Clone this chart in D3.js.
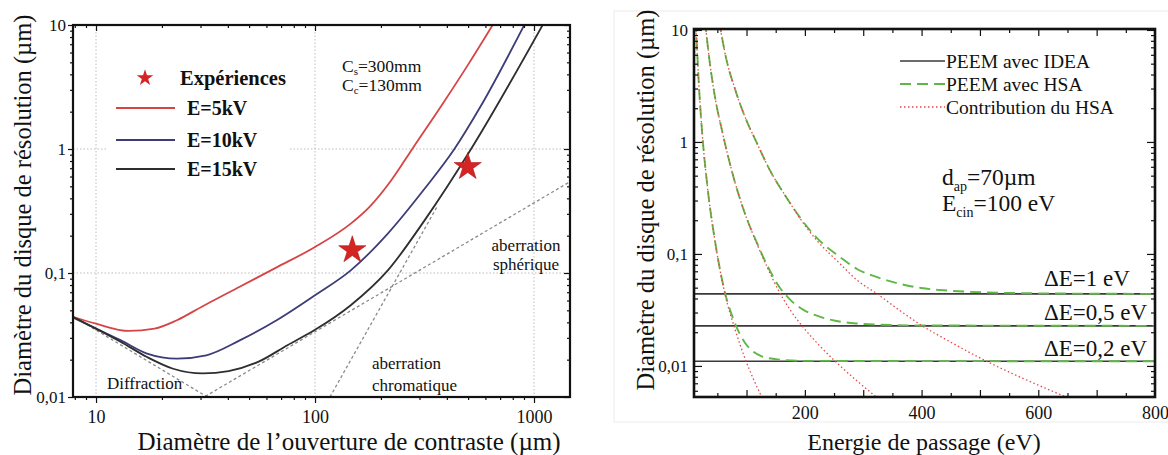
<!DOCTYPE html>
<html><head><meta charset="utf-8">
<script src="https://cdn.jsdelivr.net/npm/d3@7"></script>
<style>
body{margin:0;background:#fff}
text{font-family:"Liberation Serif","Times New Roman",serif;fill:#111}
</style>
</head><body><svg id="c" width="1168" height="455"></svg>
<script>
// ---------- LEFT PANEL DATA (aperture diameter µm, resolution µm) ----------
const leftXTicks = [10, 100, 1000];
const leftXTickLabels = ["10", "100", "1000"];
const leftYTicks = [0.01, 0.1, 1, 10];
const leftYTickLabels = ["0,01", "0,1", "1", "10"];
const leftSeriesNames = ["E=5kV", "E=10kV", "E=15kV"];
const curve5kV = [[7.7,0.0448],[10,0.039],[14.1,0.0341],[18.5,0.0356],[23.4,0.0416],[30.7,0.054],[45.3,0.0775],[66.8,0.111],[100,0.162],[145.6,0.25],[177,0.34],[223,0.56],[282,1.04],[385,2.35],[506,4.95],[652,10.2]];
const curve10kV = [[7.7,0.0445],[10,0.0356],[13,0.0286],[17.1,0.0224],[23.4,0.0204],[31.9,0.0217],[45.3,0.0286],[66.8,0.0416],[100,0.0662],[145.6,0.105],[215,0.208],[317,0.48],[433,1.0],[569,2.19],[908,10.2]];
const curve15kV = [[7.7,0.045],[10,0.0356],[13,0.0278],[17.1,0.021],[22.5,0.0169],[30.7,0.0155],[40.3,0.0162],[55,0.0192],[75.2,0.0263],[100,0.0348],[145.6,0.055],[215,0.105],[317,0.267],[516,1.0],[1102,10.2]];
const diffractionLine = [[7.85,0.0448],[33.5,0.0096]];
const sphericalLine = [[30,0.0096],[1460,0.545]];
const chromaticLine = [[117,0.01],[360,0.34]];
const experiments = [[148,0.153],[498,0.717]];

// ---------- RIGHT PANEL DATA (pass energy eV, resolution µm) ----------
const rightXTicks = [200, 400, 600, 800];
const rightYTicks = [0.01, 0.1, 1, 10];
const rightYTickLabels = ["0,01", "0,1", "1", "10"];
const deltaELabels = ["ΔE=1 eV", "ΔE=0,5 eV", "ΔE=0,2 eV"];
const ideaLevels = [0.044, 0.0228, 0.011];
const hsaContrib1 = [[53,12],[65,5.6],[80,3.0],[100,1.55],[115,1.05],[140,0.56],[170,0.31],[200,0.18],[220,0.133],[260,0.082],[290,0.058],[324,0.044],[360,0.032],[399,0.0232],[450,0.0163],[507,0.0113],[570,0.0079],[647,0.0053]];
const hsaContrib05 = [[29,12],[35,6.2],[45,2.7],[59,1.2],[80,0.44],[100,0.21],[116,0.13],[136,0.075],[156,0.046],[176,0.031],[197,0.0222],[225,0.0152],[252,0.011],[290,0.0073],[324,0.0052]];
const hsaContrib02 = [[13,12],[18,3.5],[24,1.2],[33,0.4],[46,0.13],[63,0.044],[80,0.0215],[97,0.0118],[126,0.0053]];
const peemHSA1 = [[53,12],[65,5.6],[80,3.0],[100,1.55],[115,1.05],[140,0.56],[170,0.31],[200,0.185],[220,0.14],[260,0.094],[290,0.073],[324,0.062],[360,0.0545],[399,0.0497],[450,0.0469],[507,0.0454],[570,0.0447],[647,0.0443],[800,0.044]];
const peemHSA05 = [[29,12],[35,6.2],[45,2.7],[59,1.2],[80,0.44],[100,0.21],[116,0.132],[136,0.078],[156,0.051],[176,0.0385],[197,0.0318],[225,0.0276],[252,0.0253],[290,0.0239],[324,0.0234],[400,0.023],[800,0.0228]];
const peemHSA02 = [[13,12],[18,3.5],[24,1.2],[33,0.4],[46,0.13],[63,0.0454],[80,0.0242],[97,0.0162],[110,0.0136],[126,0.0122],[150,0.0115],[200,0.0111],[800,0.011]];
const rightLegend = ["PEEM avec IDEA", "PEEM avec HSA", "Contribution du HSA"];

const svg = d3.select("#c");
svg.append("rect").attr("width",1168).attr("height",455).attr("fill","#fff");

function styleAxis(g){
  g.select(".domain").remove();
  g.attr("font-family",null).attr("font-size",null);
  g.selectAll(".tick line").attr("stroke","#111").attr("stroke-width",1.2);
  return g;
}

// ================= LEFT PANEL =================
const L = {x0:73, x1:570, y0:25, y1:397};
const xL = d3.scaleLog().domain([7.85,1460]).range([L.x0,L.x1]);
const yL = d3.scaleLog().domain([0.01,10]).range([L.y1,L.y0]);
svg.append("clipPath").attr("id","clipL").append("rect")
  .attr("x",L.x0).attr("y",L.y0).attr("width",L.x1-L.x0).attr("height",L.y1-L.y0);

const gridL = svg.append("g").attr("stroke","#bdbdbd").attr("stroke-dasharray","1.5,2").attr("stroke-width",1);
leftXTicks.forEach(v=>gridL.append("line").attr("x1",xL(v)).attr("x2",xL(v)).attr("y1",L.y0).attr("y2",L.y1));
[0.1,1].forEach(v=>gridL.append("line").attr("x1",L.x0).attr("x2",L.x1).attr("y1",yL(v)).attr("y2",yL(v)));

const lineL = d3.line().x(d=>xL(d[0])).y(d=>yL(d[1])).curve(d3.curveMonotoneX);
const lineStraightL = d3.line().x(d=>xL(d[0])).y(d=>yL(d[1]));
const plotL = svg.append("g").attr("clip-path","url(#clipL)");
[diffractionLine, sphericalLine, chromaticLine].forEach(d=>{
  plotL.append("path").attr("d",lineStraightL(d)).attr("fill","none")
    .attr("stroke","#8a8a8a").attr("stroke-width",1.3).attr("stroke-dasharray","3,2.5");
});
const leftColors = ["#d64545","#3c3c78","#2e2e2e"];
[curve5kV, curve10kV, curve15kV].forEach((d,i)=>{
  plotL.append("path").attr("d",lineL(d)).attr("fill","none")
    .attr("stroke",leftColors[i]).attr("stroke-width",1.8);
});

svg.append("rect").attr("x",107).attr("y",58).attr("width",182).attr("height",126).attr("fill","#fff");
const starBig = d3.symbol().type(d3.symbolStar).size(230);
const starSmall = d3.symbol().type(d3.symbolStar).size(85);
svg.append("g").selectAll("path").data(experiments).join("path")
  .attr("transform",d=>`translate(${xL(d[0])},${yL(d[1])})`)
  .attr("d",starBig).attr("fill","#d42424").attr("stroke","#b01818").attr("stroke-width",0.6);

svg.append("path").attr("transform","translate(145,78)").attr("d",starSmall).attr("fill","#d42424");
svg.append("text").attr("x",180).attr("y",85).attr("font-size",20.5).attr("font-weight","bold").text("Expériences");
const legY = [108,140,169];
leftSeriesNames.forEach((n,i)=>{
  svg.append("line").attr("x1",116).attr("x2",175).attr("y1",legY[i]).attr("y2",legY[i])
    .attr("stroke",leftColors[i]).attr("stroke-width",1.8);
  svg.append("text").attr("x",187).attr("y",legY[i]+7).attr("font-size",20).attr("font-weight","bold").text(n);
});

const cs = svg.append("text").attr("x",342).attr("y",72).attr("font-size",17.5);
cs.append("tspan").text("C"); cs.append("tspan").attr("font-size",11).attr("dy",3).text("s"); cs.append("tspan").attr("dy",-3).text("=300mm");
const cc = svg.append("text").attr("x",342).attr("y",91).attr("font-size",17.5);
cc.append("tspan").text("C"); cc.append("tspan").attr("font-size",11).attr("dy",3).text("c"); cc.append("tspan").attr("dy",-3).text("=130mm");

svg.append("text").attr("x",107).attr("y",389).attr("font-size",17).text("Diffraction");
svg.append("text").attr("x",372).attr("y",369).attr("font-size",17).text("aberration");
svg.append("text").attr("x",372).attr("y",391).attr("font-size",17).text("chromatique");
svg.append("text").attr("x",526).attr("y",251).attr("font-size",17).attr("text-anchor","middle").text("aberration");
svg.append("text").attr("x",526).attr("y",270).attr("font-size",17).attr("text-anchor","middle").text("sphérique");

const xLminor = xL.ticks().filter(v=>!leftXTicks.includes(v));
const yLminor = yL.ticks().filter(v=>!leftYTicks.some(t=>Math.abs(t-v)/t<1e-6));
styleAxis(svg.append("g").attr("transform",`translate(0,${L.y1})`).call(d3.axisBottom(xL).tickValues(xLminor).tickSize(3).tickFormat("")));
const bL = styleAxis(svg.append("g").attr("transform",`translate(0,${L.y1})`).call(d3.axisBottom(xL).tickValues(leftXTicks).tickSize(6).tickPadding(7).tickFormat((d,i)=>leftXTickLabels[i])));
bL.selectAll("text").attr("font-size",18).attr("fill","#111");
styleAxis(svg.append("g").attr("transform",`translate(0,${L.y0})`).call(d3.axisBottom(xL).tickValues(xLminor).tickSize(3).tickFormat("")));
styleAxis(svg.append("g").attr("transform",`translate(0,${L.y0})`).call(d3.axisBottom(xL).tickValues(leftXTicks).tickSize(6).tickFormat("")));
styleAxis(svg.append("g").attr("transform",`translate(${L.x0},0)`).call(d3.axisLeft(yL).tickValues(yLminor).tickSize(3).tickFormat("")));
const lL = styleAxis(svg.append("g").attr("transform",`translate(${L.x0},0)`).call(d3.axisLeft(yL).tickValues(leftYTicks).tickSize(5).tickPadding(2).tickFormat((d,i)=>leftYTickLabels[i])));
lL.selectAll("text").attr("font-size",17).attr("fill","#111");
styleAxis(svg.append("g").attr("transform",`translate(${L.x1},0)`).call(d3.axisRight(yL).tickValues(yLminor).tickSize(-3).tickFormat("")));
styleAxis(svg.append("g").attr("transform",`translate(${L.x1},0)`).call(d3.axisRight(yL).tickValues(leftYTicks).tickSize(-6).tickFormat("")));
svg.append("rect").attr("x",L.x0).attr("y",L.y0).attr("width",L.x1-L.x0).attr("height",L.y1-L.y0)
  .attr("fill","none").attr("stroke","#111").attr("stroke-width",2.2);

svg.append("text").attr("transform","translate(22,205) rotate(-90)").attr("text-anchor","middle").attr("dy","0.35em")
  .attr("font-size",24.5).text("Diamètre du disque de résolution (µm)");
svg.append("text").attr("x",349).attr("y",450).attr("text-anchor","middle").attr("font-size",25)
  .text("Diamètre de l’ouverture de contraste (µm)");

// ================= RIGHT PANEL =================
svg.append("rect").attr("x",614).attr("y",11).attr("width",560).attr("height",411).attr("fill","none").attr("stroke","#ececec");
const R = {x0:694, x1:1155, y0:29, y1:397};
const xR = d3.scaleLinear().domain([10,800]).range([R.x0,R.x1]);
const yR = d3.scaleLog().domain([0.00528,10.2]).range([R.y1,R.y0]);
svg.append("clipPath").attr("id","clipR").append("rect")
  .attr("x",R.x0).attr("y",R.y0).attr("width",R.x1-R.x0).attr("height",R.y1-R.y0);
const plotR = svg.append("g").attr("clip-path","url(#clipR)");
const lineR = d3.line().x(d=>xR(d[0])).y(d=>yR(d[1])).curve(d3.curveMonotoneX);
ideaLevels.forEach(v=>{
  plotR.append("line").attr("x1",xR(10)).attr("x2",xR(800)).attr("y1",yR(v)).attr("y2",yR(v))
    .attr("stroke","#3a3a3a").attr("stroke-width",1.6);
});
[peemHSA1, peemHSA05, peemHSA02].forEach(d=>{
  plotR.append("path").attr("d",lineR(d)).attr("fill","none").attr("stroke","#5fb846")
    .attr("stroke-width",1.9).attr("stroke-dasharray","11,6");
});
[hsaContrib1, hsaContrib05, hsaContrib02].forEach(d=>{
  plotR.append("path").attr("d",lineR(d)).attr("fill","none").attr("stroke","#e8474a")
    .attr("stroke-width",1.3).attr("stroke-dasharray","1.5,2.5");
});

const xRall = d3.range(50,800,50);
const xRmajor = xRall.filter(v=>v%100===0);
const xRminor = xRall.filter(v=>v%100!==0);
const yRminor = yR.ticks().filter(v=>!rightYTicks.some(t=>Math.abs(t-v)/t<1e-6));
styleAxis(svg.append("g").attr("transform",`translate(0,${R.y1})`).call(d3.axisBottom(xR).tickValues(xRminor).tickSize(-4).tickFormat("")));
styleAxis(svg.append("g").attr("transform",`translate(0,${R.y1})`).call(d3.axisBottom(xR).tickValues(xRmajor).tickSize(-7).tickFormat("")));
styleAxis(svg.append("g").attr("transform",`translate(0,${R.y0})`).call(d3.axisTop(xR).tickValues(xRminor).tickSize(-4).tickFormat("")));
styleAxis(svg.append("g").attr("transform",`translate(0,${R.y0})`).call(d3.axisTop(xR).tickValues(xRmajor).tickSize(-7).tickFormat("")));
const bR = styleAxis(svg.append("g").attr("transform",`translate(0,${R.y1})`).call(d3.axisBottom(xR).tickValues(rightXTicks).tickSize(0).tickPadding(9).tickFormat(d3.format("d"))));
bR.selectAll("text").attr("font-size",18).attr("fill","#111");
styleAxis(svg.append("g").attr("transform",`translate(${R.x0},0)`).call(d3.axisLeft(yR).tickValues(yRminor).tickSize(-4).tickFormat("")));
const lR = styleAxis(svg.append("g").attr("transform",`translate(${R.x0},0)`).call(d3.axisLeft(yR).tickValues(rightYTicks).tickSize(-8).tickPadding(6).tickFormat((d,i)=>rightYTickLabels[i])));
lR.selectAll("text").attr("font-size",17).attr("fill","#111");
styleAxis(svg.append("g").attr("transform",`translate(${R.x1},0)`).call(d3.axisRight(yR).tickValues(yRminor).tickSize(-4).tickFormat("")));
styleAxis(svg.append("g").attr("transform",`translate(${R.x1},0)`).call(d3.axisRight(yR).tickValues(rightYTicks).tickSize(-8).tickFormat("")));
svg.append("rect").attr("x",R.x0).attr("y",R.y0).attr("width",R.x1-R.x0).attr("height",R.y1-R.y0)
  .attr("fill","none").attr("stroke","#111").attr("stroke-width",2.6);

const lgY = [61,84,107];
const lgStyles = [
  {stroke:"#3a3a3a", dash:null, w:1.6},
  {stroke:"#5fb846", dash:"11,6", w:1.9},
  {stroke:"#e8474a", dash:"1.5,2.5", w:1.3}];
rightLegend.forEach((n,i)=>{
  svg.append("line").attr("x1",900).attr("x2",945).attr("y1",lgY[i]).attr("y2",lgY[i])
    .attr("stroke",lgStyles[i].stroke).attr("stroke-width",lgStyles[i].w).attr("stroke-dasharray",lgStyles[i].dash);
  svg.append("text").attr("x",946).attr("y",lgY[i]+7).attr("font-size",19.5).text(n);
});

const dap = svg.append("text").attr("x",942).attr("y",185).attr("font-size",23.5);
dap.append("tspan").text("d"); dap.append("tspan").attr("font-size",14).attr("dy",6).text("ap"); dap.append("tspan").attr("dy",-6).text("=70µm");
const ecin = svg.append("text").attr("x",942).attr("y",211).attr("font-size",23.5);
ecin.append("tspan").text("E"); ecin.append("tspan").attr("font-size",14).attr("dy",6).text("cin"); ecin.append("tspan").attr("dy",-6).text("=100 eV");
const dEy = [286,320,356];
deltaELabels.forEach((t,i)=>svg.append("text").attr("x",1044).attr("y",dEy[i]).attr("font-size",23).text(t));

svg.append("text").attr("transform","translate(645,200) rotate(-90)").attr("text-anchor","middle").attr("dy","0.35em")
  .attr("font-size",24.5).text("Diamètre du disque de résolution (µm)");
svg.append("text").attr("x",924).attr("y",450).attr("text-anchor","middle").attr("font-size",24)
  .text("Energie de passage (eV)");
</script></body></html>
